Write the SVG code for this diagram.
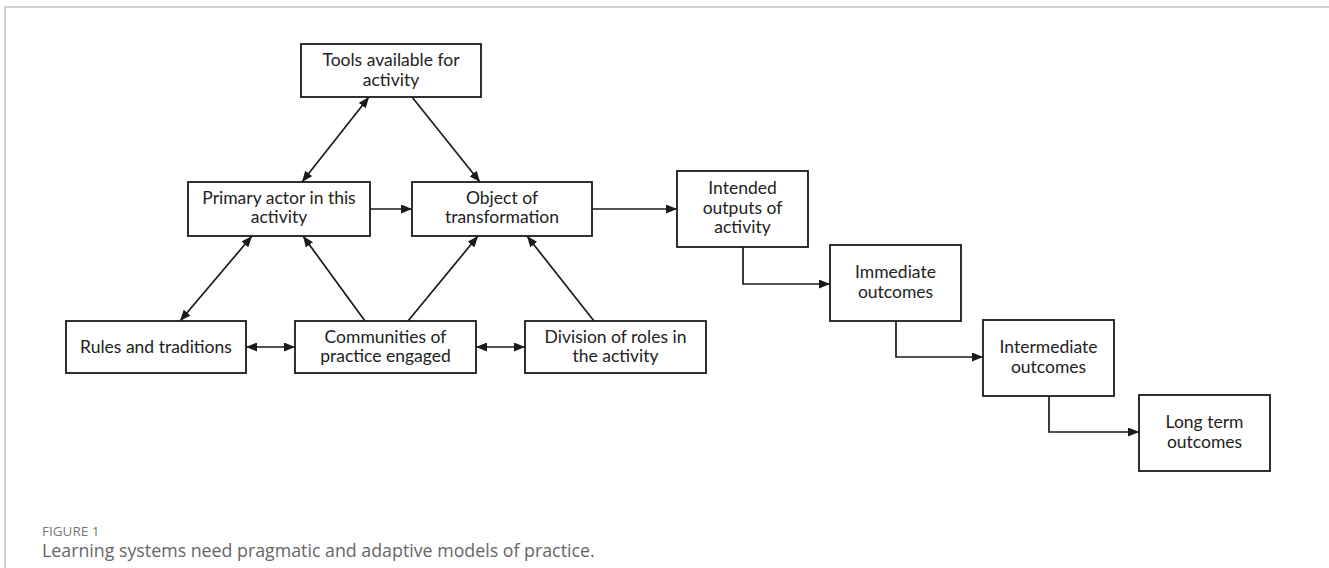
<svg xmlns="http://www.w3.org/2000/svg" width="1329" height="568" viewBox="0 0 1329 568">
<defs>
<marker id="ah" viewBox="0 0 11 9" refX="11" refY="4.5" markerWidth="11" markerHeight="9" markerUnits="userSpaceOnUse" orient="auto-start-reverse">
<path d="M0,0 L11,4.5 L0,9 z" fill="#1a1a1a"/>
</marker>
<style>
.box{fill:#fff;stroke:#1a1a1a;stroke-width:1.8}
.t{font-family:Lato,"Liberation Sans",sans-serif;font-size:17.5px;fill:#222;text-anchor:middle}
.c{fill:none;stroke:#1a1a1a;stroke-width:1.7}
.frame{stroke:#c4c4c4;stroke-width:1.6;fill:none}
.cap1{font-family:"Open Sans","Liberation Sans",sans-serif;font-size:13.5px;fill:#777}
.cap2{font-family:"Open Sans","Liberation Sans",sans-serif;font-size:17.8px;fill:#666}
</style>
</defs>
<rect width="1329" height="568" fill="#fff"/>
<path class="frame" d="M5,568 V7 H1329"/>

<g id="connectors">
<line class="c" x1="302" y1="182" x2="369" y2="97" marker-start="url(#ah)" marker-end="url(#ah)"/>
<line class="c" x1="412" y1="97" x2="480" y2="182" marker-end="url(#ah)"/>
<line class="c" x1="370" y1="209" x2="412" y2="209" marker-end="url(#ah)"/>
<line class="c" x1="592" y1="209" x2="677" y2="209" marker-end="url(#ah)"/>
<line class="c" x1="180" y1="321" x2="252" y2="236" marker-start="url(#ah)" marker-end="url(#ah)"/>
<line class="c" x1="365" y1="321" x2="303" y2="236" marker-end="url(#ah)"/>
<line class="c" x1="408" y1="321" x2="478" y2="236" marker-end="url(#ah)"/>
<line class="c" x1="594" y1="321" x2="527" y2="236" marker-end="url(#ah)"/>
<line class="c" x1="246" y1="347" x2="295" y2="347" marker-start="url(#ah)" marker-end="url(#ah)"/>
<line class="c" x1="476" y1="347" x2="525" y2="347" marker-start="url(#ah)" marker-end="url(#ah)"/>
<path class="c" d="M743,247 V284 H830" marker-end="url(#ah)"/>
<path class="c" d="M896,321 V357 H983" marker-end="url(#ah)"/>
<path class="c" d="M1049,396 V432 H1139" marker-end="url(#ah)"/>
</g>

<g id="tools"><rect class="box" x="301" y="44" width="180" height="53"/>
<text class="t" x="391" y="66">Tools available for</text><text class="t" x="391" y="86">activity</text></g>
<g id="primary"><rect class="box" x="188" y="182" width="182" height="54"/>
<text class="t" x="279" y="204">Primary actor in this</text><text class="t" x="279" y="223">activity</text></g>
<g id="object"><rect class="box" x="412" y="182" width="180" height="54"/>
<text class="t" x="502" y="204">Object of</text><text class="t" x="502" y="223">transformation</text></g>
<g id="rules"><rect class="box" x="66" y="321" width="180" height="52"/>
<text class="t" x="156" y="353">Rules and traditions</text></g>
<g id="communities"><rect class="box" x="295" y="321" width="181" height="52"/>
<text class="t" x="385.5" y="343">Communities of</text><text class="t" x="385.5" y="362">practice engaged</text></g>
<g id="division"><rect class="box" x="525" y="321" width="181" height="52"/>
<text class="t" x="615.5" y="343">Division of roles in</text><text class="t" x="615.5" y="362">the activity</text></g>
<g id="intended"><rect class="box" x="677" y="171" width="131" height="76"/>
<text class="t" x="742.5" y="194">Intended</text><text class="t" x="742.5" y="214">outputs of</text><text class="t" x="742.5" y="233">activity</text></g>
<g id="immediate"><rect class="box" x="830" y="245" width="131" height="76"/>
<text class="t" x="895.5" y="278">Immediate</text><text class="t" x="895.5" y="298">outcomes</text></g>
<g id="intermediate"><rect class="box" x="983" y="320" width="131" height="76"/>
<text class="t" x="1048.5" y="353">Intermediate</text><text class="t" x="1048.5" y="373">outcomes</text></g>
<g id="longterm"><rect class="box" x="1139" y="395" width="131" height="76"/>
<text class="t" x="1204.5" y="428">Long term</text><text class="t" x="1204.5" y="448">outcomes</text></g>

<text class="cap1" x="42" y="536">FIGURE 1</text>
<text class="cap2" x="42" y="557">Learning systems need pragmatic and adaptive models of practice.</text>
</svg>
